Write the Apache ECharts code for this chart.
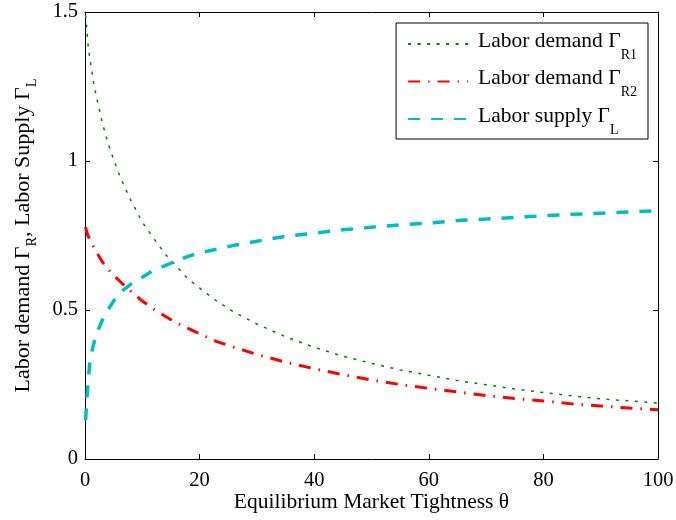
<!DOCTYPE html>
<html>
<head>
<meta charset="utf-8">
<script src="https://cdn.jsdelivr.net/npm/echarts@6/dist/echarts.min.js"></script>
<style>
  html, body { margin: 0; padding: 0; background: #fff; }
  #main { width: 676px; height: 520px; }
</style>
</head>
<body>
<div id="main"></div>
<script>
// market tightness theta (x)
var theta = [0.1, 0.25, 0.5, 0.75, 1, 1.5, 2, 3, 4, 5, 6, 7, 8, 10, 12, 14, 16, 18, 20, 23, 26, 30,
  35, 40, 45, 50, 55, 60, 65, 70, 75, 80, 85, 90, 95, 100];
// Labor demand Gamma_R1 (green dotted)
var demandR1 = [1.49, 1.46, 1.395, 1.358, 1.326, 1.262, 1.215, 1.13, 1.06, 1.005, 0.953, 0.91, 0.868, 0.795,
  0.74, 0.688, 0.646, 0.604, 0.574, 0.53, 0.493, 0.453, 0.41, 0.375, 0.345, 0.321, 0.299, 0.281,
  0.263, 0.249, 0.235, 0.223, 0.212, 0.202, 0.195, 0.188];
// Labor demand Gamma_R2 (red dash-dot)
var demandR2 = [0.778, 0.765, 0.75, 0.74, 0.73, 0.712, 0.695, 0.662, 0.638, 0.617, 0.598, 0.58, 0.563, 0.53,
  0.503, 0.479, 0.456, 0.438, 0.42, 0.394, 0.375, 0.351, 0.325, 0.303, 0.283, 0.265, 0.25, 0.237,
  0.225, 0.213, 0.203, 0.195, 0.185, 0.178, 0.171, 0.165];
// Labor supply Gamma_L (cyan dashed)
var supplyL = [0.13, 0.18, 0.245, 0.307, 0.345, 0.385, 0.42, 0.465, 0.5, 0.53, 0.555, 0.572, 0.587, 0.61,
  0.634, 0.649, 0.665, 0.68, 0.692, 0.704, 0.717, 0.731, 0.747, 0.758, 0.769, 0.778, 0.786, 0.792,
  0.8, 0.805, 0.811, 0.816, 0.821, 0.825, 0.829, 0.833];

var xTicks = [0, 100, 20];
var yTicks = [0, 1.5, 0.5];

var font = "Liberation Serif";
var fs = 20.5;

let pairs = (ys) => theta.map((t, i) => [t, ys[i]]);

let legendText = {
  "Labor demand R1": "{n|Labor demand Γ}{s|R1}",
  "Labor demand R2": "{n|Labor demand Γ}{s|R2}",
  "Labor supply L": "{n|Labor supply Γ}{s|L}",
};

// legend: subscripts pushed down with top padding, main text lifted a bit above the icon
let legendRich = {
  n: { fontFamily: font, fontSize: 21.5, color: "#000", lineHeight: 24, padding: [0, 0, 6, 5] },
  s: { fontFamily: font, fontSize: 14, color: "#000", lineHeight: 14, padding: [22, 0, 0, 0] },
};
// y-axis name
let nameRich = {
  n: { fontFamily: font, fontSize: 22, color: "#000", lineHeight: 24 },
  s: { fontFamily: font, fontSize: 14.5, color: "#000", lineHeight: 14, padding: [18, 0, 0, 0] },
};

let axisBase = {
  type: "value",
  axisLine: { show: true, onZero: false, lineStyle: { color: "#000", width: 1 } },
  axisTick: { show: true, inside: true, length: 5, lineStyle: { color: "#000" } },
  splitLine: { show: false },
};

let option = {
  backgroundColor: "#fff",
  animation: false,
  grid: { left: 85, right: 18, top: 12, bottom: 61, outerBoundsMode: "none" },
  legend: {
    orient: "vertical",
    right: 28,
    top: 23,
    padding: [3, 11, 2, 11],
    itemWidth: 60,
    itemHeight: 14,
    itemGap: 1.5,
    borderColor: "#000",
    borderWidth: 1,
    backgroundColor: "#fff",
    itemStyle: { opacity: 0 },
    data: ["Labor demand R1", "Labor demand R2", "Labor supply L"],
    formatter: (name) => legendText[name],
    textStyle: { fontFamily: font, fontSize: 21.5, color: "#000", rich: legendRich },
  },
  xAxis: [
    Object.assign({}, axisBase, {
      min: xTicks[0], max: xTicks[1], interval: xTicks[2],
      name: "Equilibrium Market Tightness θ",
      nameLocation: "middle",
      nameGap: 32,
      nameMoveOverlap: false,
      nameTextStyle: { fontFamily: font, fontSize: 21.5, color: "#000" },
      axisLabel: { fontFamily: font, fontSize: fs, color: "#000", margin: 11 },
    }),
    Object.assign({}, axisBase, {
      position: "top",
      min: xTicks[0], max: xTicks[1], interval: xTicks[2],
      axisLabel: { show: false },
    }),
  ],
  yAxis: [
    Object.assign({}, axisBase, {
      min: yTicks[0], max: yTicks[1], interval: yTicks[2],
      name: "{n|Labor demand Γ}{s|R}{n|, Labor Supply Γ}{s|L}",
      nameLocation: "middle",
      nameGap: 50,
      nameTextStyle: { fontFamily: font, fontSize: 22, color: "#000", rich: nameRich },
      axisLabel: { fontFamily: font, fontSize: fs, color: "#000", margin: 7, padding: [5, 0, 0, 0] },
    }),
    Object.assign({}, axisBase, {
      position: "right",
      min: yTicks[0], max: yTicks[1], interval: yTicks[2],
      axisLabel: { show: false },
    }),
  ],
  series: [
    {
      name: "Labor demand R1",
      type: "line",
      symbol: "none",
      data: pairs(demandR1),
      itemStyle: { color: "#008000" },
      lineStyle: { color: "#008000", width: 1.5, type: [3, 6.5] },
      z: 3,
    },
    {
      name: "Labor demand R2",
      type: "line",
      symbol: "none",
      data: pairs(demandR2),
      itemStyle: { color: "#ff0000" },
      lineStyle: { color: "#ff0000", width: 3, type: [12, 8, 1.5, 8] },
      z: 4,
    },
    {
      name: "Labor supply L",
      type: "line",
      symbol: "none",
      data: pairs(supplyL),
      itemStyle: { color: "#00bfbf" },
      lineStyle: { color: "#00bfbf", width: 3.5, type: [12, 11] },
      z: 5,
    },
  ],
};

var myChart = echarts.init(document.getElementById("main"));
myChart.setOption(option);
</script>
</body>
</html>
